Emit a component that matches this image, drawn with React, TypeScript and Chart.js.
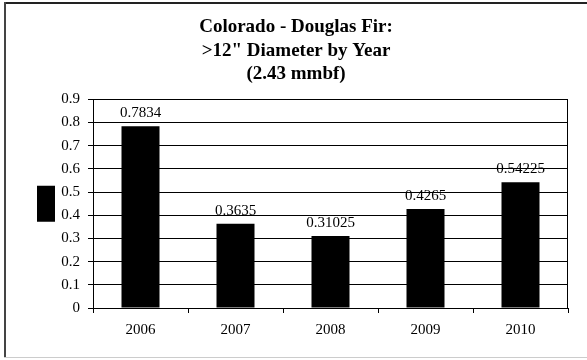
import React, { useEffect, useRef } from 'react';
import { Chart, registerables } from 'chart.js';

Chart.register(...registerables);

const years = ['2006', '2007', '2008', '2009', '2010'];
const values = [0.7834, 0.3635, 0.31025, 0.4265, 0.54225];
const valueLabels = ['0.7834', '0.3635', '0.31025', '0.4265', '0.54225'];
const titleLines = ['Colorado - Douglas Fir:', '>12" Diameter by Year', '(2.43 mmbf)'];
const yMin = 0;
const yMax = 0.9;
const yStep = 0.1;

const SERIF = "'Liberation Serif', 'Times New Roman', serif";

const framePlugin = {
  id: 'frame',
  beforeDraw(chart: any) {
    const ctx = chart.ctx;
    ctx.save();
    ctx.fillStyle = '#ffffff';
    ctx.fillRect(0, 0, chart.width, chart.height);
    ctx.fillStyle = '#222222';
    ctx.fillRect(4, 2, chart.width - 4, 2);
    ctx.fillStyle = '#444444';
    ctx.fillRect(4, 2, 2, 356);
    ctx.fillStyle = '#cccccc';
    ctx.fillRect(4, 357, chart.width - 4, 1);
    ctx.restore();
  },
  afterDraw(chart: any) {
    const ctx = chart.ctx;
    const a = chart.chartArea;
    ctx.save();
    ctx.strokeStyle = '#000000';
    ctx.lineWidth = 1;
    ctx.beginPath();
    ctx.moveTo(Math.round(a.right) - 0.5, a.top);
    ctx.lineTo(Math.round(a.right) - 0.5, a.bottom);
    ctx.stroke();
    ctx.restore();
  },
};

const valueLabelPlugin = {
  id: 'valueLabels',
  afterDatasetsDraw(chart: any) {
    const ctx = chart.ctx;
    const meta = chart.getDatasetMeta(0);
    ctx.save();
    ctx.fillStyle = '#000000';
    ctx.font = `15px ${SERIF}`;
    ctx.textAlign = 'center';
    ctx.textBaseline = 'alphabetic';
    meta.data.forEach((el: any, i: number) => {
      ctx.fillText(valueLabels[i], el.x, el.y - 9);
    });
    ctx.restore();
  },
};

export default function App() {
  const ref = useRef<HTMLCanvasElement | null>(null);

  useEffect(() => {
    if (!ref.current) return;
    const chart = new Chart(ref.current, {
      type: 'bar',
      data: {
        labels: years,
        datasets: [
          {
            label: '',
            data: values,
            backgroundColor: '#000000',
            borderColor: '#000000',
            borderWidth: 0,
            barPercentage: 0.4,
            categoryPercentage: 1,
          },
        ],
      },
      options: {
        responsive: false,
        animation: false,
        devicePixelRatio: 1,
        layout: { padding: { left: 24, right: 19, top: 0, bottom: 21 } },
        plugins: {
          title: {
            display: true,
            text: titleLines,
            color: '#000000',
            font: { family: SERIF, size: 19, weight: 'bold', lineHeight: 1.25 },
            padding: { top: 15, bottom: 13 },
          },
          legend: {
            display: true,
            position: 'left',
            align: 'center',
            fullSize: false,
            maxWidth: 36,
            labels: {
              boxWidth: 18,
              boxHeight: 36,
              padding: 13,
              font: { family: SERIF, size: 15 },
              generateLabels: () => [
                {
                  text: '',
                  fillStyle: '#000000',
                  strokeStyle: '#000000',
                  lineWidth: 0,
                  hidden: false,
                  datasetIndex: 0,
                },
              ],
            },
          },
          tooltip: { enabled: false },
        },
        scales: {
          x: {
            offset: true,
            grid: {
              display: true,
              offset: true,
              drawOnChartArea: false,
              drawTicks: true,
              tickLength: 5,
              color: '#000000',
            },
            border: { display: true, color: '#000000', width: 1 },
            ticks: {
              color: '#000000',
              font: { family: SERIF, size: 15 },
              padding: 8,
              maxRotation: 0,
            },
            afterFit: (s: any) => {
              s.height = 31;
            },
          },
          y: {
            min: yMin,
            max: yMax,
            grid: {
              display: true,
              drawTicks: true,
              tickLength: 5,
              color: '#000000',
            },
            border: { display: true, color: '#000000', width: 1 },
            ticks: {
              stepSize: yStep,
              color: '#000000',
              font: { family: SERIF, size: 15 },
              padding: 8,
              callback: (v: any) => String(Number(Number(v).toFixed(1))),
            },
            afterFit: (s: any) => {
              s.width = 33;
            },
          },
        },
      },
      plugins: [framePlugin, valueLabelPlugin],
    });
    return () => chart.destroy();
  }, []);

  return (
    <div style={{ position: 'fixed', left: 0, top: 0, width: 587, height: 360 }}>
      <canvas ref={ref} width={587} height={360} style={{ width: 587, height: 360 }} />
    </div>
  );
}
